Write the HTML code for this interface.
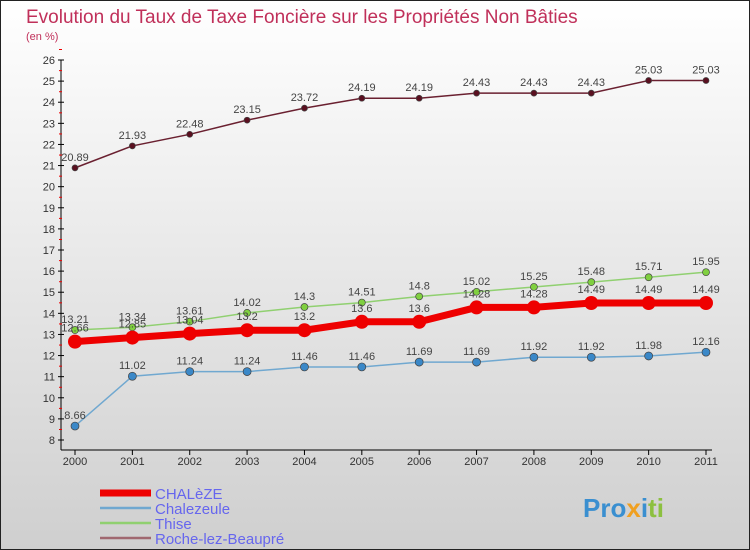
<!DOCTYPE html>
<html><head><meta charset="utf-8"><style>
body{margin:0}
#wrap{position:relative;width:750px;height:550px;box-sizing:border-box;border:1px solid #222;background:linear-gradient(#ffffff,#cfcfcf);font-family:"Liberation Sans",sans-serif;overflow:hidden}
</style></head><body>
<div id="wrap">
<svg id="c" width="750" height="550" style="position:absolute;left:-1px;top:-1px">
<text x="26" y="23" font-size="19" fill="#c0305a">Evolution du Taux de Taxe Foncière sur les Propriétés Non Bâties</text>
<text x="26" y="40" font-size="11" fill="#c0305a">(en %)</text>
<g id="axes"></g><g id="series"></g><g id="legend"></g>
<text x="583" y="517" font-size="26" font-weight="bold" fill="#3a8fd0">Pro<tspan fill="#f0a020">x</tspan><tspan fill="#3a8fd0">i</tspan><tspan fill="#8cc040">ti</tspan></text>
</svg>
</div>
<script>
const years=[2000,2001,2002,2003,2004,2005,2006,2007,2008,2009,2010,2011];
const yTicks=[8,9,10,11,12,13,14,15,16,17,18,19,20,21,22,23,24,25,26];
const roche=[20.89,21.93,22.48,23.15,23.72,24.19,24.19,24.43,24.43,24.43,25.03,25.03];
const thise=[13.21,13.34,13.61,14.02,14.3,14.51,14.8,15.02,15.25,15.48,15.71,15.95];
const chaleze=[12.66,12.85,13.04,13.2,13.2,13.6,13.6,14.28,14.28,14.49,14.49,14.49];
const chalezeule=[8.66,11.02,11.24,11.24,11.46,11.46,11.69,11.69,11.92,11.92,11.98,12.16];
const NS="http://www.w3.org/2000/svg";
const xs=i=>75+i*(706-75)/(years.length-1);
const ys=v=>440-(v-8)*(380/18);
function mk(p,t,a){const e=document.createElementNS(NS,t);for(const k in a)e.setAttribute(k,a[k]);p.appendChild(e);return e;}
const ax=document.getElementById('axes');
let l=mk(ax,'line',{x1:61,y1:60,x2:61,y2:450,stroke:'#000'});


l=mk(ax,'line',{x1:61,y1:450,x2:712,y2:450,stroke:'#000'});


yTicks.forEach(v=>{const y=ys(v);
mk(ax,'line',{x1:58,y1:y,x2:64,y2:y,stroke:'#000'});
mk(ax,'line',{x1:59,y1:y-10.5,x2:62,y2:y-10.5,stroke:'#e00'});
const t=mk(ax,'text',{x:55,y:y+4,'font-size':11,'text-anchor':'end',fill:'#333'});t.textContent=v;

});
years.forEach((yr,i)=>{const x=xs(i);mk(ax,'line',{x1:x,y1:450,x2:x,y2:455,stroke:'#000'});
const t=mk(ax,'text',{x:x,y:465,'font-size':11,'text-anchor':'middle',fill:'#333'});t.textContent=yr;

});
const ser=[
 {name:'roche',d:roche,c:'#6a2030',w:1.5,r:3,pt:'#5a1020',lab:'Roche-lez-Beaupré',lc:'#a06870'},
 {name:'thise',d:thise,c:'#90d070',w:1.5,r:3.5,pt:'#80d040',lab:'Thise',lc:'#90d070'},
 {name:'chalezeule',d:chalezeule,c:'#70a8d0',w:1.5,r:4,pt:'#3a88c8',lab:'Chalezeule',lc:'#70a8d0'},
 {name:'chaleze',d:chaleze,c:'#ee0000',w:7,r:7,pt:'#ee0000',lab:'CHALèZE',lc:'#ee0000'}];
const sg=document.getElementById('series');
ser.forEach(s=>{const g=mk(sg,'g',{});


mk(g,'polyline',{points:s.d.map((v,i)=>xs(i)+','+ys(v)).join(' '),fill:'none',stroke:s.c,'stroke-width':s.w});
s.d.forEach((v,i)=>{const c=mk(g,'circle',{cx:xs(i),cy:ys(v),r:s.r,fill:s.pt,stroke:'#444','stroke-width':s.name=='chaleze'?0:0.7});


const t=mk(g,'text',{x:xs(i),y:ys(v)-(s.name=='chaleze'?10:7),'font-size':11,'text-anchor':'middle',fill:'#444'});t.textContent=v;

});});
const lg=document.getElementById('legend');
const order=[ser[3],ser[2],ser[1],ser[0]];
order.forEach((s,i)=>{const y=493+i*15;const g=mk(lg,'g',{});


mk(g,'line',{x1:100,y1:y,x2:151,y2:y,stroke:s.lc,'stroke-width':s.name=='chaleze'?7:2.5});
const t=mk(g,'text',{x:155,y:y+6,'font-size':15,fill:'#6666ee'});t.textContent=s.lab;});
</script>
</body></html>
